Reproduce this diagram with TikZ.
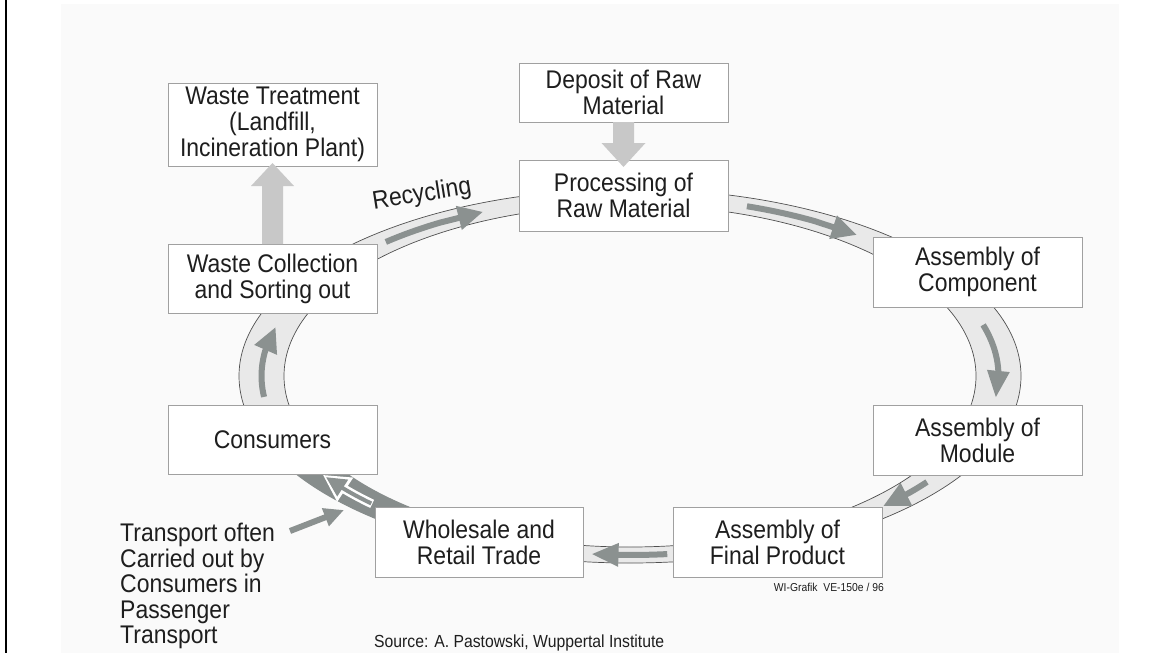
\documentclass[tikz,border=0pt]{standalone}
\usepackage{fontspec}
\setmainfont[FakeStretch=0.9]{Liberation Sans}
\usetikzlibrary{arrows.meta,calc}
\definecolor{bgc}{HTML}{FAFAFA}
\definecolor{bandc}{HTML}{E9E9E9}
\definecolor{bandln}{HTML}{505050}
\definecolor{arrc}{HTML}{8B9190}
\definecolor{darkc}{HTML}{878D8C}
\definecolor{boxln}{HTML}{A0A0A0}
\definecolor{blockc}{HTML}{C8C8C8}
\definecolor{txt}{HTML}{1E1E1E}
\begin{document}
\begin{tikzpicture}[x=1pt,y=-1pt,
  box/.style={draw=boxln, line width=1pt, fill=white, inner sep=0pt, outer sep=0pt,
    minimum width=209pt, minimum height=70pt, align=center, text=txt,
    font=\fontsize{25.5}{26}\selectfont},
  lbl/.style={text=txt, inner sep=0pt, font=\fontsize{25.5}{25.5}\selectfont},
  small/.style={text=txt, inner sep=0pt},
  bandarrow/.style={draw=arrc, line width=6pt, -{Triangle[length=25pt,width=23pt]}},
  bandedge/.style={draw=bandln, line width=0.7pt}]
\useasboundingbox (0,0) rectangle (1164,653);
% page frame and background
\fill[black] (5,0) rectangle (7.3,653);
\fill[bgc] (61,4) rectangle (1119,653);
% ring band
\fill[bandc, even odd rule] (630,376) ellipse [x radius=391pt, y radius=187pt]
                            (630,376) ellipse [x radius=346pt, y radius=171pt];
\draw[bandedge] (630,376) ellipse [x radius=391pt, y radius=187pt];
\draw[bandedge] (630,376) ellipse [x radius=346pt, y radius=171pt];
\begin{scope}
  \clip (150,474) rectangle (430,600);
  \fill[darkc, even odd rule] (630,376) ellipse [x radius=392pt, y radius=188pt]
                              (630,376) ellipse [x radius=345pt, y radius=170pt];
\end{scope}
% boxes
\node[box, minimum height=83pt] (wt) at (272.5,124.5) {Waste Treatment\\(Landfill,\\Incineration Plant)};
\node[box, minimum height=59pt] (dep) at (623.5,92.5) {Deposit of Raw\\Material};
\node[box, minimum height=71pt] (proc) at (623.5,195.5) {Processing of\\Raw Material};
\node[box] (comp) at (977.5,272) {Assembly of\\Component};
\node[box] (mod) at (977.5,440) {Assembly of\\Module};
\node[box] (fin) at (777.5,542) {Assembly of\\Final Product};
\node[box, minimum width=208pt] (whole) at (479,542) {Wholesale and\\Retail Trade};
\node[box, minimum height=69pt] (cons) at (272.5,439.5) {Consumers};
\node[box, minimum height=69pt] (wc) at (272.5,278.5) {Waste Collection\\and Sorting out};
% block arrows
\fill[blockc] ($(dep.south)+(-10.5,0)$) -- ($(dep.south)+(10.5,0)$) -- ($(dep.south)+(10.5,21)$)
  -- ($(dep.south)+(22,21)$) -- ($(proc.north)+(0,7)$) -- ($(dep.south)+(-22,21)$)
  -- ($(dep.south)+(-10.5,21)$) -- cycle;
\fill[blockc] ($(wc.north)+(-10.5,0)$) -- ($(wc.north)+(10.5,0)$) -- ($(wt.south)+(10.5,20)$)
  -- ($(wt.south)+(21.5,20)$) -- ($(wt.south)+(0,-3)$) -- ($(wt.south)+(-21.5,20)$)
  -- ($(wt.south)+(-10.5,20)$) -- cycle;
% arrows inside the band
\draw[bandarrow] plot[domain=131.5:121, samples=12, variable=\t] ({630+368.5*cos(\t)},{376-179*sin(\t)})
  -- ({630+368.5*cos(113.5)},{376-179*sin(113.5)});
\draw[bandarrow] plot[domain=71.5:60, samples=12, variable=\t] ({630+368.5*cos(\t)},{376-179*sin(\t)})
  -- ({630+368.5*cos(52)},{376-179*sin(52)});
\draw[bandarrow, -{Triangle[length=27pt,width=21pt]}] plot[domain=16.6:1.5, samples=12, variable=\t] ({630+368.5*cos(\t)},{376-179*sin(\t)})
  -- ({630+368.5*cos(-7)},{376-179*sin(-7)});
\draw[bandarrow, -{Triangle[length=26pt,width=24pt]}] plot[domain=-36.3:-41, samples=8, variable=\t] ({630+368.5*cos(\t)},{376-179*sin(\t)})
  -- ({630+368.5*cos(-46.6)},{376-179*sin(-46.6)});
\draw[bandarrow, -{Triangle[length=27pt,width=22pt]}] plot[domain=-84.2:-91.5, samples=8, variable=\t] ({630+368.5*cos(\t)},{376-179*sin(\t)})
  -- ({630+368.5*cos(-96)},{376-179*sin(-96)});
\draw[bandarrow] plot[domain=186.7:172, samples=12, variable=\t] ({630+368.5*cos(\t)},{376-179*sin(\t)})
  -- ({630+368.5*cos(164.1)},{376-179*sin(164.1)});
% arrow in the dark segment (white outlined)
\draw[white, line width=9pt, -{Triangle[length=27pt,width=27pt]}] plot[domain=-134.4:-141, samples=8, variable=\t] ({630+368.5*cos(\t)},{376-179*sin(\t)})
  -- ({630+368.5*cos(-146.5)},{376-179*sin(-146.5)});
\draw[arrc, line width=4pt, -{Triangle[length=20pt,width=19pt]}] plot[domain=-134.6:-141, samples=8, variable=\t] ({630+368.5*cos(\t)},{376-179*sin(\t)})
  -- ({630+368.5*cos(-145.6)},{376-179*sin(-145.6)});
% labels
\node[lbl, rotate=9] (recyc) at (422,195) {Recycling};
\node[lbl, anchor=west, align=left] (transp) at (120,586) {Transport often\\Carried out by\\Consumers in\\Passenger\\Transport};
\coordinate (ta) at (290,531);
\coordinate (tb) at (344,510);
\draw[arrc, line width=6pt, -{Triangle[length=20pt,width=18pt]}] (ta) -- (tb);
\node[small, anchor=west, font=\fontsize{17.5}{18}\selectfont] (src) at (374,643) {Source: A. Pastowski, Wuppertal Institute};
\node[small, anchor=east, font=\fontsize{11.5}{12}\selectfont] (wig) at (884,587) {WI-Grafik\ \ VE-150e / 96};
\end{tikzpicture}
\end{document}
